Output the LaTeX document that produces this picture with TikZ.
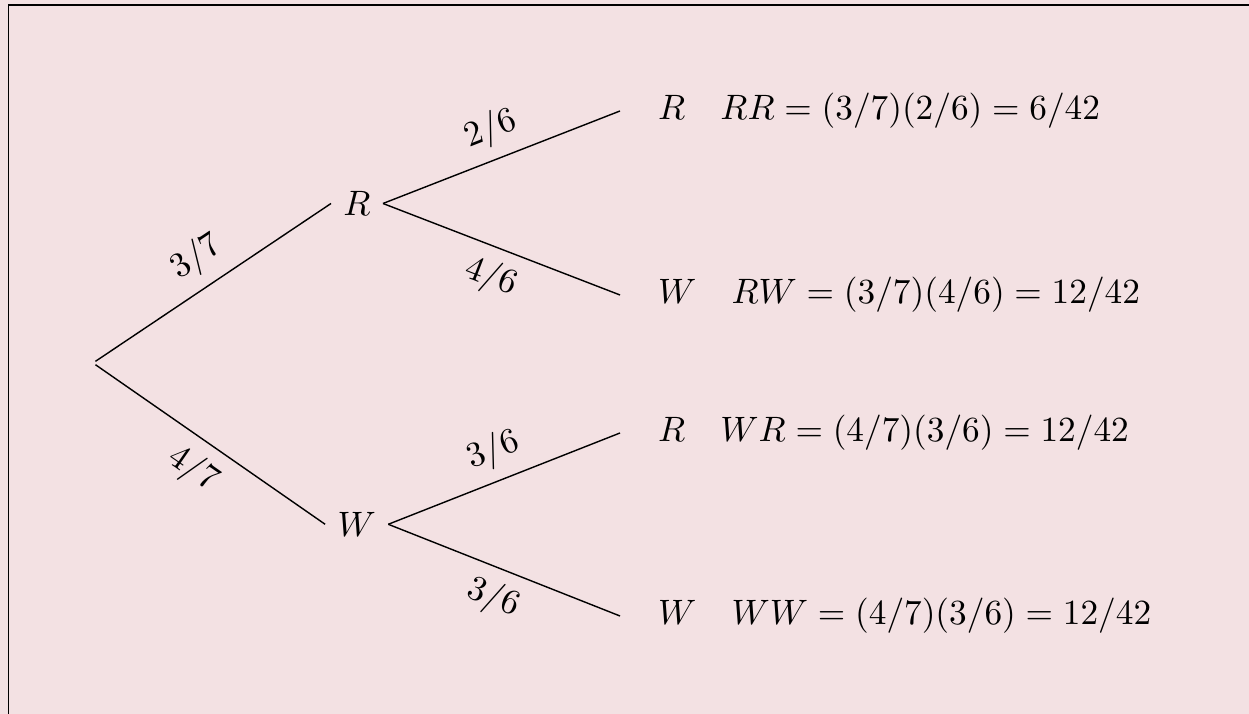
\documentclass[tikz,border=0pt]{standalone}
\usepackage{xcolor}
\usepackage{tikz}
\usetikzlibrary{positioning}
\definecolor{paper}{HTML}{F3E1E3}

\begin{document}
\begin{tikzpicture}[
  x=0.996cm, y=0.996cm,
  stage/.style={inner sep=3.33pt},
  leaf/.style={anchor=west, inner xsep=10.6pt},
  prob/.style={midway, sloped}
]
\clip (0,0) rectangle (12.49,-7.14);
\fill[paper] (0,0) rectangle (12.49,-7.14);
\draw[line width=0.4pt] (0.083,-0.052) rectangle (13,-8);
% tree
\node[inner sep=0pt] (root) at (0.93,-3.63) {};
\node[stage] (r) at (3.57,-2.035) {$R$};
\node[stage] (w) at (3.567,-5.243) {$W$};
\node[leaf] (rr) at (6.20,-1.11) {$R\quad RR=(3/7)(2/6)=6/42$};
\node[leaf] (rw) at (6.20,-2.95) {$W\quad RW=(3/7)(4/6)=12/42$};
\node[leaf] (wr) at (6.20,-4.33) {$R\quad WR=(4/7)(3/6)=12/42$};
\node[leaf] (ww) at (6.20,-6.16) {$W\quad WW=(4/7)(3/6)=12/42$};
\draw (root) -- node[prob, above] {$3/7$} (r.west);
\draw (root) -- node[prob, below] {$4/7$} (w.west);
\draw (r.east) -- node[prob, above] {$2/6$} (rr.west);
\draw (r.east) -- node[prob, below] {$4/6$} (rw.west);
\draw (w.east) -- node[prob, above] {$3/6$} (wr.west);
\draw (w.east) -- node[prob, below] {$3/6$} (ww.west);
\end{tikzpicture}
\end{document}
